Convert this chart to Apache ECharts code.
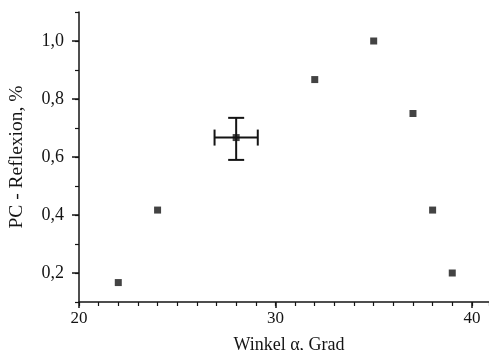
<!DOCTYPE html>
<html>
<head>
<meta charset="utf-8">
<script src="https://cdn.jsdelivr.net/npm/echarts@6/dist/echarts.min.js"></script>
<style>
  html, body { margin: 0; padding: 0; background: #fff; }
  #chart { width: 489px; height: 350px; }
</style>
</head>
<body>
<div id="chart"></div>
<script>
const angles = [22, 24, 28, 32, 35, 37, 38, 39];
const reflexion = [0.167, 0.417, 0.667, 0.867, 1.0, 0.75, 0.417, 0.2];

// error bar around the point at 28 deg
const errPoint = [28, 0.667];
const errX = [26.9, 29.1];
const errY = [0.59, 0.735];

const FONT = "Liberation Serif";
const INK = "#141414";

const chart = echarts.init(document.getElementById("chart"), null, { renderer: "canvas" });

const hiddenAxis = { show: false };
const noBounds = { containLabel: false, outerBoundsMode: "none" };

chart.setOption({
  backgroundColor: "#fff",
  animation: false,
  grid: [
    // main frame: axis lines + minor ticks
    Object.assign({ left: 79, right: 0, top: 12, bottom: 48 }, noBounds),
    // x majors 20/30/40
    Object.assign({ left: 79, right: 17, top: 12, bottom: 48 }, noBounds),
    // y majors 0,2..1,0
    Object.assign({ left: 79, right: 0, top: 41, bottom: 77 }, noBounds),
  ],
  xAxis: [
    {
      gridIndex: 0, type: "value", min: 20, max: 40.87, interval: 1,
      axisLine: { lineStyle: { color: INK, width: 1.5 } },
      axisTick: { length: 4, lineStyle: { color: INK, width: 1.2 } },
      axisLabel: { show: false },
      splitLine: { show: false },
      name: "Winkel α, Grad", nameLocation: "middle", nameGap: 34,
      nameTextStyle: { fontFamily: FONT, fontSize: 18, color: INK, padding: [0, 0, 0, 10] },
    },
    {
      gridIndex: 1, type: "value", min: 20, max: 40, interval: 10,
      axisLine: { show: false },
      axisTick: { length: 6, lineStyle: { color: INK, width: 1.5 } },
      axisLabel: { fontFamily: FONT, fontSize: 17, color: INK, margin: 8 },
      splitLine: { show: false },
    },
    Object.assign({ gridIndex: 2, type: "value", min: 20, max: 40.87 }, hiddenAxis),
  ],
  yAxis: [
    {
      gridIndex: 0, type: "value", min: 0.1, max: 1.1, interval: 0.1,
      axisLine: { show: true, lineStyle: { color: INK, width: 1.5 } },
      axisTick: { show: true, length: 4, lineStyle: { color: INK, width: 1.2 } },
      axisLabel: { show: false },
      splitLine: { show: false },
    },
    Object.assign({ gridIndex: 1, type: "value", min: 0.1, max: 1.1 }, hiddenAxis),
    {
      gridIndex: 2, type: "value", min: 0.2, max: 1.0, interval: 0.2,
      axisLine: { show: false },
      axisTick: { show: true, length: 7, lineStyle: { color: INK, width: 1.5 } },
      axisLabel: {
        fontFamily: FONT, fontSize: 18, color: INK, margin: 15,
        formatter: (v) => v.toFixed(1).replace(".", ","),
      },
      splitLine: { show: false },
      name: "PC - Reflexion, %", nameLocation: "middle", nameGap: 52,
      nameTextStyle: { fontFamily: FONT, fontSize: 19.5, color: INK },
    },
  ],
  series: [
    {
      type: "scatter",
      xAxisIndex: 0, yAxisIndex: 0,
      symbol: "rect", symbolSize: 7,
      itemStyle: { color: INK },
      data: angles.map((a, i) => [a, reflexion[i]]),
    },
    {
      type: "custom",
      xAxisIndex: 0, yAxisIndex: 0,
      data: [[errPoint[0], errPoint[1], errX[0], errX[1], errY[0], errY[1]]],
      renderItem: (params, api) => {
        const l = api.coord([api.value(2), api.value(1)]);
        const r = api.coord([api.value(3), api.value(1)]);
        const b = api.coord([api.value(0), api.value(4)]);
        const t = api.coord([api.value(0), api.value(5)]);
        const cap = 8;
        const style = { stroke: INK, lineWidth: 2 };
        const line = (x1, y1, x2, y2) => ({ type: "line", shape: { x1, y1, x2, y2 }, style });
        return {
          type: "group",
          children: [
            line(l[0], l[1], r[0], r[1]),
            line(l[0], l[1] - cap, l[0], l[1] + cap),
            line(r[0], r[1] - cap, r[0], r[1] + cap),
            line(b[0], b[1], t[0], t[1]),
            line(t[0] - cap, t[1], t[0] + cap, t[1]),
            line(b[0] - cap, b[1], b[0] + cap, b[1]),
          ],
        };
      },
    },
  ],
});
</script>
</body>
</html>
